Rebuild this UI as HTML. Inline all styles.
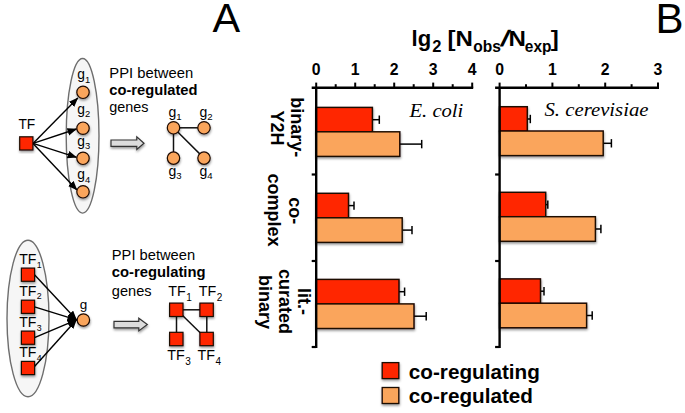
<!DOCTYPE html>
<html><head><meta charset="utf-8"><title>Figure</title>
<style>
html,body{margin:0;padding:0;background:#fff;}
svg{display:block;}
text{font-family:"Liberation Sans",Arial,Helvetica,sans-serif;fill:#000;}
.b{font-weight:bold;}
.ser{font-family:"Liberation Serif","Times New Roman",serif;font-style:italic;}
</style></head><body>
<svg width="685" height="413" viewBox="0 0 685 413">
<defs>
<filter id="sh" x="-20%" y="-20%" width="150%" height="150%"><feDropShadow dx="0.4" dy="1.7" stdDeviation="1.2" flood-color="#000" flood-opacity="0.4"/></filter>
<marker id="ah" markerUnits="userSpaceOnUse" markerWidth="11" markerHeight="9" refX="9" refY="3.8" orient="auto"><path d="M0,0 L9.6,3.8 L0,7.6 Z" fill="#000"/></marker>
</defs>
<rect width="685" height="413" fill="#fff"/>

<text x="212.5" y="32.4" font-size="41.5">A</text>
<text x="655.6" y="32.6" font-size="42">B</text>
<ellipse cx="82.6" cy="135.8" rx="16.4" ry="77.3" fill="#f6f6f6" stroke="#6e6e6e" stroke-width="1.4"/>
<line x1="33" y1="143.4" x2="77.8" y2="98.0" stroke="#000" stroke-width="1.4" marker-end="url(#ah)"/>
<line x1="33" y1="143.4" x2="76.5" y2="129.0" stroke="#000" stroke-width="1.4" marker-end="url(#ah)"/>
<line x1="33" y1="143.4" x2="76.5" y2="157.3" stroke="#000" stroke-width="1.4" marker-end="url(#ah)"/>
<line x1="33" y1="143.4" x2="77.0" y2="190.0" stroke="#000" stroke-width="1.4" marker-end="url(#ah)"/>
<rect x="19.7" y="136.8" width="13.2" height="13.2" fill="#ff2600" stroke="#1c0800" stroke-width="1.2" filter="url(#sh)"/>
<text x="18.4" y="129.1" font-size="13.8">TF</text>
<circle cx="83" cy="92.3" r="6.2" fill="#faa55c" stroke="#1c0800" stroke-width="1.2" filter="url(#sh)"/>
<text x="77.3" y="78.7" font-size="13.8">g<tspan font-size="9.4" dy="3.8">1</tspan></text>
<circle cx="83" cy="128.2" r="6.2" fill="#faa55c" stroke="#1c0800" stroke-width="1.2" filter="url(#sh)"/>
<text x="77.3" y="113.5" font-size="13.8">g<tspan font-size="9.4" dy="3.8">2</tspan></text>
<circle cx="83" cy="158.3" r="6.2" fill="#faa55c" stroke="#1c0800" stroke-width="1.2" filter="url(#sh)"/>
<text x="77.3" y="145.6" font-size="13.8">g<tspan font-size="9.4" dy="3.8">3</tspan></text>
<circle cx="83" cy="191.8" r="6.2" fill="#faa55c" stroke="#1c0800" stroke-width="1.2" filter="url(#sh)"/>
<text x="77.3" y="178.7" font-size="13.8">g<tspan font-size="9.4" dy="3.8">4</tspan></text>
<text x="109.3" y="77.8" font-size="14.8">PPI between</text>
<text x="109.3" y="95.4" font-size="14.7" class="b">co-regulated</text>
<text x="109.3" y="112.4" font-size="14.4">genes</text>
<path d="M111,140.0 L136.8,140.0 L136.8,136.89999999999998 L144,143.2 L136.8,149.5 L136.8,146.39999999999998 L111,146.39999999999998 Z" fill="#dcdcdc" stroke="#333" stroke-width="1.2" stroke-linejoin="miter" filter="url(#sh)"/>
<g stroke="#111" stroke-width="1.5"><line x1="173.5" y1="127.8" x2="204" y2="127.8"/><line x1="173.5" y1="127.8" x2="173.5" y2="158.1"/><line x1="173.5" y1="127.8" x2="204" y2="158.1"/></g>
<circle cx="173.5" cy="127.8" r="6.2" fill="#faa55c" stroke="#1c0800" stroke-width="1.2" filter="url(#sh)"/>
<circle cx="204" cy="127.8" r="6.2" fill="#faa55c" stroke="#1c0800" stroke-width="1.2" filter="url(#sh)"/>
<circle cx="173.5" cy="158.1" r="6.2" fill="#faa55c" stroke="#1c0800" stroke-width="1.2" filter="url(#sh)"/>
<circle cx="204" cy="158.1" r="6.2" fill="#faa55c" stroke="#1c0800" stroke-width="1.2" filter="url(#sh)"/>
<text x="168.5" y="116.9" font-size="14">g<tspan font-size="9.6" dy="3">1</tspan></text>
<text x="199.4" y="116.9" font-size="14">g<tspan font-size="9.6" dy="3">2</tspan></text>
<text x="168.5" y="175.8" font-size="14">g<tspan font-size="9.6" dy="3">3</tspan></text>
<text x="199.4" y="175.8" font-size="14">g<tspan font-size="9.6" dy="3">4</tspan></text>
<ellipse cx="28" cy="318.5" rx="21" ry="78.3" fill="#f6f6f6" stroke="#6e6e6e" stroke-width="1.4"/>
<line x1="34.5" y1="274.7" x2="76.5" y2="319.8" stroke="#000" stroke-width="1.4" marker-end="url(#ah)"/>
<line x1="34.5" y1="306.8" x2="76.5" y2="319.8" stroke="#000" stroke-width="1.4" marker-end="url(#ah)"/>
<line x1="34.5" y1="337.6" x2="76.5" y2="319.8" stroke="#000" stroke-width="1.4" marker-end="url(#ah)"/>
<line x1="34.5" y1="366.5" x2="76.5" y2="319.8" stroke="#000" stroke-width="1.4" marker-end="url(#ah)"/>
<circle cx="83.4" cy="320" r="6.2" fill="#faa55c" stroke="#1c0800" stroke-width="1.2" filter="url(#sh)"/>
<text x="79.8" y="308.9" font-size="13.5">g</text>
<rect x="21.4" y="268.09999999999997" width="13.2" height="13.2" fill="#ff2600" stroke="#1c0800" stroke-width="1.2" filter="url(#sh)"/>
<text x="19.2" y="264.2" font-size="14.1">TF<tspan font-size="8.8" dx="0.4" dy="3.6">1</tspan></text>
<rect x="21.4" y="300.2" width="13.2" height="13.2" fill="#ff2600" stroke="#1c0800" stroke-width="1.2" filter="url(#sh)"/>
<text x="19.2" y="295.8" font-size="14.1">TF<tspan font-size="8.8" dx="0.4" dy="3.6">2</tspan></text>
<rect x="21.4" y="331.09999999999997" width="13.2" height="13.2" fill="#ff2600" stroke="#1c0800" stroke-width="1.2" filter="url(#sh)"/>
<text x="19.2" y="327.2" font-size="14.1">TF<tspan font-size="8.8" dx="0.4" dy="3.6">3</tspan></text>
<rect x="21.4" y="361.4" width="13.2" height="13.2" fill="#ff2600" stroke="#1c0800" stroke-width="1.2" filter="url(#sh)"/>
<text x="19.2" y="357.1" font-size="14.1">TF<tspan font-size="8.8" dx="0.4" dy="3.6">4</tspan></text>
<text x="111.8" y="259.7" font-size="14.7">PPI between</text>
<text x="111.8" y="277.3" font-size="14.8" class="b">co-regulating</text>
<text x="111.8" y="295.5" font-size="14.6">genes</text>
<path d="M114,321.40000000000003 L138.8,321.40000000000003 L138.8,318.3 L147.3,324.6 L138.8,330.90000000000003 L138.8,327.8 L114,327.8 Z" fill="#dcdcdc" stroke="#333" stroke-width="1.2" stroke-linejoin="miter" filter="url(#sh)"/>
<g stroke="#111" stroke-width="1.5"><line x1="176.3" y1="309.8" x2="206.6" y2="309.8"/><line x1="176.5" y1="309.8" x2="176.5" y2="339"/><line x1="206.8" y1="309.8" x2="206.8" y2="339"/><line x1="179" y1="312" x2="204" y2="336.5"/></g>
<rect x="169.60000000000002" y="303.1" width="13.4" height="13.4" fill="#ff2600" stroke="#1c0800" stroke-width="1.2" filter="url(#sh)"/>
<rect x="199.9" y="303.1" width="13.4" height="13.4" fill="#ff2600" stroke="#1c0800" stroke-width="1.2" filter="url(#sh)"/>
<rect x="169.60000000000002" y="332.3" width="13.4" height="13.4" fill="#ff2600" stroke="#1c0800" stroke-width="1.2" filter="url(#sh)"/>
<rect x="199.9" y="332.3" width="13.4" height="13.4" fill="#ff2600" stroke="#1c0800" stroke-width="1.2" filter="url(#sh)"/>
<text x="168.2" y="296.1" font-size="14.3">TF<tspan font-size="10" dx="0.6" dy="4.4">1</tspan></text>
<text x="198.8" y="296.1" font-size="14.3">TF<tspan font-size="10" dx="0.6" dy="4.4">2</tspan></text>
<text x="167.2" y="360.4" font-size="14.3">TF<tspan font-size="10" dx="0.6" dy="4.4">3</tspan></text>
<text x="197.5" y="360.4" font-size="14.3">TF<tspan font-size="10" dx="0.6" dy="4.4">4</tspan></text>
<g class="b"><text x="411.5" y="46.2" font-size="22.5" textLength="19.6" lengthAdjust="spacingAndGlyphs">lg</text><text x="432.2" y="51.8" font-size="16.5">2</text><text x="447.6" y="46.2" font-size="22.5" textLength="25.4" lengthAdjust="spacingAndGlyphs">[N</text><text x="473.2" y="51.8" font-size="16.5" textLength="27.6" lengthAdjust="spacingAndGlyphs">obs</text><text transform="translate(499.6,46.2) skewX(-14)" font-size="22.5" textLength="8" lengthAdjust="spacingAndGlyphs">/</text><text x="508.6" y="46.2" font-size="22.5" textLength="17.4" lengthAdjust="spacingAndGlyphs">N</text><text x="524.8" y="51.8" font-size="16.5" textLength="26.6" lengthAdjust="spacingAndGlyphs">exp</text><text x="550.8" y="46.2" font-size="22.5" textLength="8" lengthAdjust="spacingAndGlyphs">]</text></g>
<line x1="372.4" y1="119.7" x2="379.3" y2="119.7" stroke="#000" stroke-width="1.5"/><line x1="379.3" y1="115.5" x2="379.3" y2="123.9" stroke="#000" stroke-width="1.5"/><rect x="316.2" y="107.4" width="56.19999999999999" height="24.6" fill="#ff2600" stroke="#1c0800" stroke-width="1.45" filter="url(#sh)"/>
<line x1="399.8" y1="144.10000000000002" x2="421.7" y2="144.10000000000002" stroke="#000" stroke-width="1.5"/><line x1="421.7" y1="139.90000000000003" x2="421.7" y2="148.3" stroke="#000" stroke-width="1.5"/><rect x="316.2" y="131.8" width="83.60000000000002" height="24.6" fill="#faa55c" stroke="#1c0800" stroke-width="1.45" filter="url(#sh)"/>
<line x1="348.5" y1="205.60000000000002" x2="354" y2="205.60000000000002" stroke="#000" stroke-width="1.5"/><line x1="354" y1="201.40000000000003" x2="354" y2="209.8" stroke="#000" stroke-width="1.5"/><rect x="316.2" y="193.3" width="32.30000000000001" height="24.6" fill="#ff2600" stroke="#1c0800" stroke-width="1.45" filter="url(#sh)"/>
<line x1="402.2" y1="230.10000000000002" x2="412.0" y2="230.10000000000002" stroke="#000" stroke-width="1.5"/><line x1="412.0" y1="225.90000000000003" x2="412.0" y2="234.3" stroke="#000" stroke-width="1.5"/><rect x="316.2" y="217.8" width="86.0" height="24.6" fill="#faa55c" stroke="#1c0800" stroke-width="1.45" filter="url(#sh)"/>
<line x1="399" y1="291.7" x2="404.6" y2="291.7" stroke="#000" stroke-width="1.5"/><line x1="404.6" y1="287.5" x2="404.6" y2="295.9" stroke="#000" stroke-width="1.5"/><rect x="316.2" y="279.4" width="82.80000000000001" height="24.6" fill="#ff2600" stroke="#1c0800" stroke-width="1.45" filter="url(#sh)"/>
<line x1="414" y1="316.2" x2="426.2" y2="316.2" stroke="#000" stroke-width="1.5"/><line x1="426.2" y1="312.0" x2="426.2" y2="320.4" stroke="#000" stroke-width="1.5"/><rect x="316.2" y="303.9" width="97.80000000000001" height="24.6" fill="#faa55c" stroke="#1c0800" stroke-width="1.45" filter="url(#sh)"/>
<line x1="316.20" y1="88" x2="316.20" y2="82.6" stroke="#000" stroke-width="2"/><text x="316.20" y="75.3" font-size="15.8" class="b" text-anchor="middle">0</text><line x1="335.70" y1="88" x2="335.70" y2="84.2" stroke="#000" stroke-width="2"/><line x1="355.20" y1="88" x2="355.20" y2="82.6" stroke="#000" stroke-width="2"/><text x="355.20" y="75.3" font-size="15.8" class="b" text-anchor="middle">1</text><line x1="374.70" y1="88" x2="374.70" y2="84.2" stroke="#000" stroke-width="2"/><line x1="394.20" y1="88" x2="394.20" y2="82.6" stroke="#000" stroke-width="2"/><text x="394.20" y="75.3" font-size="15.8" class="b" text-anchor="middle">2</text><line x1="413.70" y1="88" x2="413.70" y2="84.2" stroke="#000" stroke-width="2"/><line x1="433.20" y1="88" x2="433.20" y2="82.6" stroke="#000" stroke-width="2"/><text x="433.20" y="75.3" font-size="15.8" class="b" text-anchor="middle">3</text><line x1="452.70" y1="88" x2="452.70" y2="84.2" stroke="#000" stroke-width="2"/><line x1="472.20" y1="88" x2="472.20" y2="82.6" stroke="#000" stroke-width="2"/><text x="472.20" y="75.3" font-size="15.8" class="b" text-anchor="middle">4</text><line x1="311.7" y1="87.8" x2="473.2" y2="87.8" stroke="#000" stroke-width="2.4"/><line x1="316.2" y1="87" x2="316.2" y2="348" stroke="#000" stroke-width="2.4"/><line x1="311.7" y1="174.5" x2="316.2" y2="174.5" stroke="#000" stroke-width="2.2"/><line x1="311.7" y1="261" x2="316.2" y2="261" stroke="#000" stroke-width="2.2"/><line x1="311.7" y1="347" x2="316.2" y2="347" stroke="#000" stroke-width="2.2"/>
<line x1="527.3" y1="119.0" x2="530.3" y2="119.0" stroke="#000" stroke-width="1.5"/><line x1="530.3" y1="114.8" x2="530.3" y2="123.2" stroke="#000" stroke-width="1.5"/><rect x="499.6" y="106.7" width="27.699999999999932" height="24.6" fill="#ff2600" stroke="#1c0800" stroke-width="1.45" filter="url(#sh)"/>
<line x1="603.2" y1="143.3" x2="611.4" y2="143.3" stroke="#000" stroke-width="1.5"/><line x1="611.4" y1="139.10000000000002" x2="611.4" y2="147.5" stroke="#000" stroke-width="1.5"/><rect x="499.6" y="131.0" width="103.60000000000002" height="24.6" fill="#faa55c" stroke="#1c0800" stroke-width="1.45" filter="url(#sh)"/>
<line x1="545.7" y1="204.60000000000002" x2="547.8" y2="204.60000000000002" stroke="#000" stroke-width="1.5"/><line x1="547.8" y1="200.40000000000003" x2="547.8" y2="208.8" stroke="#000" stroke-width="1.5"/><rect x="499.6" y="192.3" width="46.10000000000002" height="24.6" fill="#ff2600" stroke="#1c0800" stroke-width="1.45" filter="url(#sh)"/>
<line x1="595.4" y1="229.0" x2="600.9" y2="229.0" stroke="#000" stroke-width="1.5"/><line x1="600.9" y1="224.8" x2="600.9" y2="233.2" stroke="#000" stroke-width="1.5"/><rect x="499.6" y="216.7" width="95.79999999999995" height="24.6" fill="#faa55c" stroke="#1c0800" stroke-width="1.45" filter="url(#sh)"/>
<line x1="540.5" y1="291.2" x2="544" y2="291.2" stroke="#000" stroke-width="1.5"/><line x1="544" y1="287.0" x2="544" y2="295.4" stroke="#000" stroke-width="1.5"/><rect x="499.6" y="278.9" width="40.89999999999998" height="24.6" fill="#ff2600" stroke="#1c0800" stroke-width="1.45" filter="url(#sh)"/>
<line x1="586.6" y1="315.5" x2="592.2" y2="315.5" stroke="#000" stroke-width="1.5"/><line x1="592.2" y1="311.3" x2="592.2" y2="319.7" stroke="#000" stroke-width="1.5"/><rect x="499.6" y="303.2" width="87.0" height="24.6" fill="#faa55c" stroke="#1c0800" stroke-width="1.45" filter="url(#sh)"/>
<line x1="499.60" y1="88" x2="499.60" y2="82.6" stroke="#000" stroke-width="2"/><text x="499.60" y="75.3" font-size="15.8" class="b" text-anchor="middle">0</text><line x1="526.00" y1="88" x2="526.00" y2="84.2" stroke="#000" stroke-width="2"/><line x1="552.40" y1="88" x2="552.40" y2="82.6" stroke="#000" stroke-width="2"/><text x="552.40" y="75.3" font-size="15.8" class="b" text-anchor="middle">1</text><line x1="578.80" y1="88" x2="578.80" y2="84.2" stroke="#000" stroke-width="2"/><line x1="605.20" y1="88" x2="605.20" y2="82.6" stroke="#000" stroke-width="2"/><text x="605.20" y="75.3" font-size="15.8" class="b" text-anchor="middle">2</text><line x1="631.60" y1="88" x2="631.60" y2="84.2" stroke="#000" stroke-width="2"/><line x1="658.00" y1="88" x2="658.00" y2="82.6" stroke="#000" stroke-width="2"/><text x="658.00" y="75.3" font-size="15.8" class="b" text-anchor="middle">3</text><line x1="495.1" y1="87.8" x2="659.0" y2="87.8" stroke="#000" stroke-width="2.4"/><line x1="499.6" y1="87" x2="499.6" y2="348" stroke="#000" stroke-width="2.4"/><line x1="495.1" y1="174.5" x2="499.6" y2="174.5" stroke="#000" stroke-width="2.2"/><line x1="495.1" y1="261" x2="499.6" y2="261" stroke="#000" stroke-width="2.2"/><line x1="495.1" y1="347" x2="499.6" y2="347" stroke="#000" stroke-width="2.2"/>
<text x="409.5" y="116.6" font-size="19.6" class="ser" textLength="53.8" lengthAdjust="spacingAndGlyphs">E. coli</text>
<text x="544.5" y="116" font-size="19.6" class="ser" textLength="104" lengthAdjust="spacingAndGlyphs">S. cerevisiae</text>
<text transform="translate(291.3,127.3) rotate(90)" text-anchor="middle" font-size="18" class="b">binary-</text>
<text transform="translate(271.3,128) rotate(90)" text-anchor="middle" font-size="18" class="b">Y2H</text>
<text transform="translate(288.8,210.8) rotate(90)" text-anchor="middle" font-size="18" class="b">co-</text>
<text transform="translate(268.3,210) rotate(90)" text-anchor="middle" font-size="18" class="b">complex</text>
<text transform="translate(298.4,301.6) rotate(90)" text-anchor="middle" font-size="18" class="b">lit.-</text>
<text transform="translate(278.6,301.5) rotate(90)" text-anchor="middle" font-size="18" class="b">curated</text>
<text transform="translate(258.5,302) rotate(90)" text-anchor="middle" font-size="18" class="b">binary</text>
<rect x="382.2" y="362.6" width="16.6" height="16" fill="#ff2600" stroke="#1c0800" stroke-width="1.3" filter="url(#sh)"/>
<rect x="382.2" y="387.5" width="16.6" height="16" fill="#faa55c" stroke="#1c0800" stroke-width="1.3" filter="url(#sh)"/>
<text x="408.8" y="378.6" font-size="20.7" class="b">co-regulating</text>
<text x="408.8" y="402.7" font-size="20.7" class="b">co-regulated</text>
</svg></body></html>
